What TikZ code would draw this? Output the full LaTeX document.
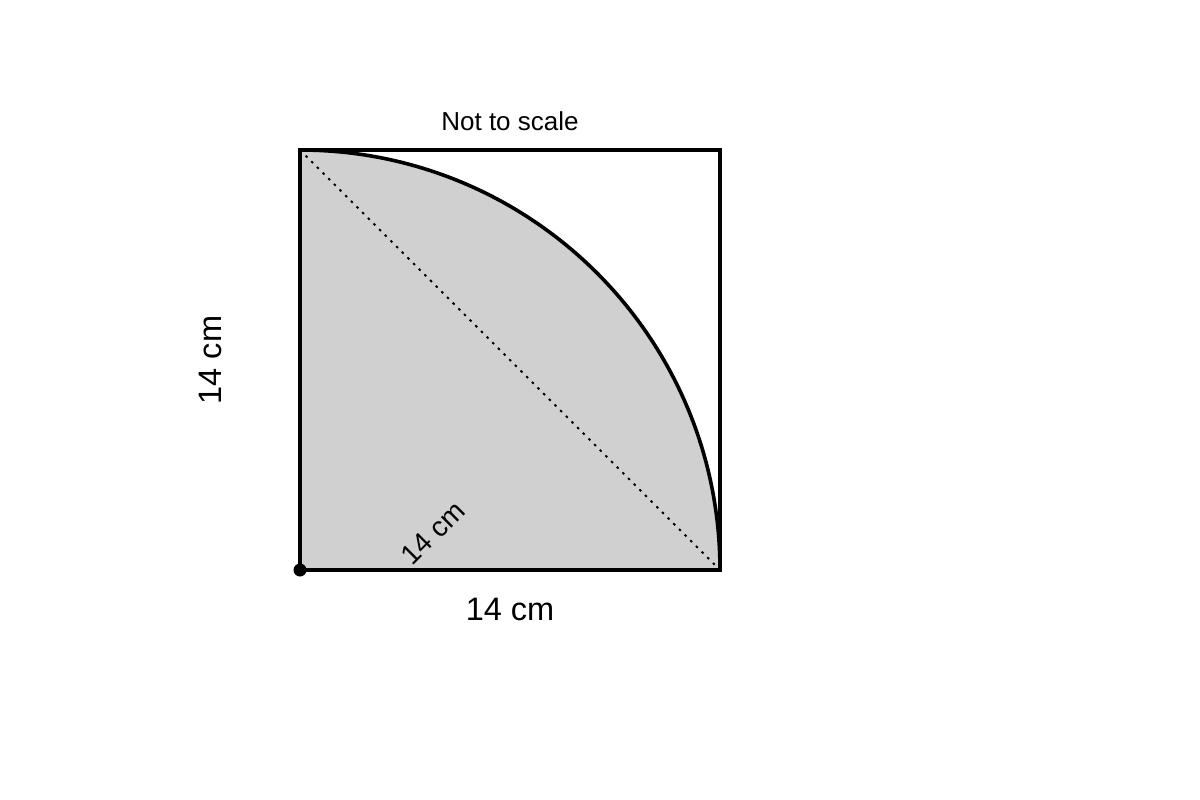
\documentclass[tikz,border=0pt]{standalone}
\usepackage{fontspec}
\setmainfont{Liberation Sans}
\begin{document}
\begin{tikzpicture}[x=1pt,y=-1pt,
  lbl/.style={font=\fontsize{32.5}{38}\selectfont, inner sep=0pt},
  lblsmall/.style={font=\fontsize{26}{30}\selectfont, inner sep=0pt},
  lbldiag/.style={font=\fontsize{28}{32}\selectfont, inner sep=0pt}]
\useasboundingbox (0,0) rectangle (1200,800);
\coordinate (O) at (300,570);
\coordinate (TL) at (300,150);
\coordinate (TR) at (720,150);
\coordinate (BR) at (720,570);
\fill[fill={rgb,255:red,208;green,208;blue,208}] (O) -- (TL) arc[start angle=-90, end angle=0, radius=420] -- cycle;
\draw[line width=1.8pt, dash pattern=on 2.5pt off 5.5pt] (TL) -- (BR);
\draw[line width=3.6pt] (TL) arc[start angle=-90, end angle=0, radius=420];
\draw[line width=4pt] (O) -- (TL) -- (TR) -- (BR) -- cycle;
\fill (O) circle (6.5);
\node[lblsmall] (nts) at (510,121) {Not to scale};
\node[lbl, rotate=90] (left) at (210,360) {14 cm};
\node[lbl] (bottom) at (510,609) {14 cm};
\node[lbldiag, rotate=45] (diag) at (433,533) {14 cm};
\end{tikzpicture}
\end{document}
